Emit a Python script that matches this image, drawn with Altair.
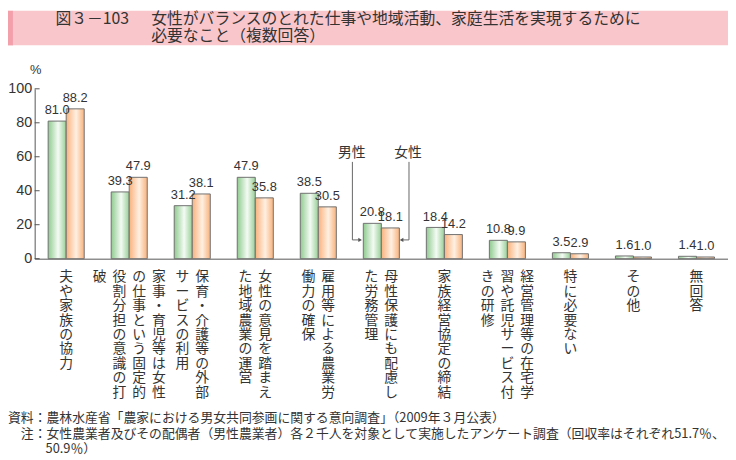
import altair as alt
import pandas as pd

# ---------------- data ----------------
categories = [
    "夫や家族の協力",
    "家事・育児等は女性の仕事という固定的役割分担の意識の打破",
    "保育・介護等の外部サービスの利用",
    "女性の意見を踏まえた地域農業の運営",
    "雇用等による農業労働力の確保",
    "母性保護にも配慮した労務管理",
    "家族経営協定の締結",
    "経営管理等の在宅学習や託児サービス付きの研修",
    "特に必要ない",
    "その他",
    "無回答",
]
# vertical label columns, right column first
label_columns = [
    ["夫や家族の協力"],
    ["家事・育児等は女性", "の仕事という固定的", "役割分担の意識の打", "破"],
    ["保育・介護等の外部", "サービスの利用"],
    ["女性の意見を踏まえ", "た地域農業の運営"],
    ["雇用等による農業労", "働力の確保"],
    ["母性保護にも配慮し", "た労務管理"],
    ["家族経営協定の締結"],
    ["経営管理等の在宅学", "習や託児サービス付", "きの研修"],
    ["特に必要ない"],
    ["その他"],
    ["無回答"],
]
series = ["男性", "女性"]
male = [81.0, 39.3, 31.2, 47.9, 38.5, 20.8, 18.4, 10.8, 3.5, 1.6, 1.4]
female = [88.2, 47.9, 38.1, 35.8, 30.5, 18.1, 14.2, 9.9, 2.9, 1.0, 1.0]
y_ticks = [0, 20, 40, 60, 80, 100]
unit_label = "%"
fig_no = "図３－103"
title_lines = [
    "女性がバランスのとれた仕事や地域活動、家庭生活を実現するために",
    "必要なこと（複数回答）",
]
notes = [
    "資料：農林水産省「農家における男女共同参画に関する意向調査」（2009年３月公表）",
    "注：女性農業者及びその配偶者（男性農業者）各２千人を対象として実施したアンケート調査（回収率はそれぞれ51.7％、",
    "50.9％）",
]

# ---------------- tables ----------------
rows = []
for c, m, f in zip(categories, male, female):
    rows.append({"category": c, "series": series[0], "value": m})
    rows.append({"category": c, "series": series[1], "value": f})
df_bars = pd.DataFrame(rows)

COL_STEP = 20
lab_rows = []
for c, cols in zip(categories, label_columns):
    n = len(cols)
    for j, col in enumerate(cols):
        off = int(round(((n - 1) / 2 - j) * COL_STEP))
        lab_rows.append({"category": c, "off": off, "text": "\n".join(col)})
df_lab = pd.DataFrame(lab_rows)
df_ticks = pd.DataFrame({"value": y_ticks})
one = pd.DataFrame({"k": [0]})

JP = "Noto Sans CJK JP"
NUM = "Liberation Sans"
TXT = "#333333"
AX = "#555555"

x_enc = alt.X(
    "category:N",
    sort=categories,
    scale=alt.Scale(domain=categories, paddingInner=0.428, paddingOuter=0.214),
    axis=alt.Axis(labels=False, ticks=False, title=None, grid=False,
                  domainColor=AX, domainWidth=1),
)
y_enc = alt.Y(
    "value:Q",
    scale=alt.Scale(domain=[0, 100], nice=False, zero=True),
    axis=alt.Axis(values=y_ticks, ticks=False, labelPadding=3, labelFontSize=14.5,
                  labelFont=NUM, labelColor=TXT, title=None,
                  grid=False, domainColor=AX, domainWidth=1),
)
xoff = alt.XOffset("series:N", sort=series,
                   scale=alt.Scale(domain=series, paddingInner=0, paddingOuter=0))

grad_m = alt.Gradient(gradient="linear", x1=0, x2=1, y1=0, y2=0, stops=[
    alt.GradientStop(offset=0, color="#8fca8f"),
    alt.GradientStop(offset=0.55, color="#f4fbf4"),
    alt.GradientStop(offset=1, color="#98cf98"),
])
grad_f = alt.Gradient(gradient="linear", x1=0, x2=1, y1=0, y2=0, stops=[
    alt.GradientStop(offset=0, color="#f8b27c"),
    alt.GradientStop(offset=0.55, color="#fff0e2"),
    alt.GradientStop(offset=1, color="#f8b27c"),
])

layers = []

# title band
layers.append(alt.Chart(one).mark_rect(color="#f9c7cb").encode(
    x=alt.value(-27), x2=alt.value(710), y=alt.value(-79), y2=alt.value(-44)))
layers.append(alt.Chart(one).mark_rect(color="#f3a0ab").encode(
    x=alt.value(-27), x2=alt.value(-22), y=alt.value(-79), y2=alt.value(-44)))
layers.append(alt.Chart(one).mark_text(text=fig_no, font=JP, fontSize=16, color=TXT,
                                       align="left", baseline="middle").encode(
    x=alt.value(21), y=alt.value(-70.5)))
for i, t in enumerate(title_lines):
    layers.append(alt.Chart(one).mark_text(text=t, font=JP, fontSize=16, color=TXT,
                                           align="left", baseline="middle").encode(
        x=alt.value(118), y=alt.value(-70.5 + 17.5 * i)))

# bars
for s, g in zip(series, [grad_m, grad_f]):
    layers.append(
        alt.Chart(df_bars).transform_filter(alt.datum.series == s)
        .mark_bar(fill=g, stroke="#707070", strokeWidth=1)
        .encode(x=x_enc, xOffset=xoff, y=y_enc)
    )

# inward ticks on y axis
layers.append(alt.Chart(df_ticks).mark_rule(color=AX, strokeWidth=1).encode(
    y=y_enc, x=alt.value(0), x2=alt.value(5)))

# value labels
layers.append(
    alt.Chart(df_bars).mark_text(font=NUM, fontSize=13, color=TXT,
                                 baseline="alphabetic", dy=-7)
    .encode(x=x_enc, xOffset=xoff, y=y_enc, text=alt.Text("value:Q", format=".1f"))
)

# vertical category labels
for off in sorted(df_lab["off"].unique()):
    layers.append(
        alt.Chart(df_lab).transform_filter(alt.datum.off == int(off))
        .mark_text(dx=int(off), font=JP, fontSize=14, color=TXT, lineBreak="\n",
                   lineHeight=14.6, align="center", baseline="top")
        .encode(x=x_enc, y=alt.value(184), text="text:N")
    )

# unit label
layers.append(alt.Chart(one).mark_text(text=unit_label, font=NUM, fontSize=13,
                                       color=TXT, align="center", baseline="middle").encode(
    x=alt.value(1), y=alt.value(-19)))

# series annotation with arrows
layers.append(alt.Chart(one).mark_text(text=series[0], font=JP, fontSize=14, color=TXT,
                                       align="center", baseline="middle").encode(
    x=alt.value(321), y=alt.value(65)))
layers.append(alt.Chart(one).mark_text(text=series[1], font=JP, fontSize=14, color=TXT,
                                       align="center", baseline="middle").encode(
    x=alt.value(378), y=alt.value(65)))
for (xa, ya, yb) in [(321.7, 74, 153), (379, 74, 153)]:
    layers.append(alt.Chart(one).mark_rule(color="#666666", strokeWidth=1).encode(
        x=alt.value(xa), y=alt.value(ya), y2=alt.value(yb)))
layers.append(alt.Chart(one).mark_rule(color="#666666", strokeWidth=1).encode(
    x=alt.value(321.7), x2=alt.value(329), y=alt.value(153)))
layers.append(alt.Chart(one).mark_rule(color="#666666", strokeWidth=1).encode(
    x=alt.value(372), x2=alt.value(379), y=alt.value(153)))
layers.append(alt.Chart(one).mark_point(shape="triangle-right", filled=True, size=18,
                                        color="#555555", opacity=1).encode(
    x=alt.value(329.5), y=alt.value(153)))
layers.append(alt.Chart(one).mark_point(shape="triangle-left", filled=True, size=18,
                                        color="#555555", opacity=1).encode(
    x=alt.value(371.5), y=alt.value(153)))

# notes
for t, xv, yv in zip(notes, [-27, -14, 11], [333, 350, 365]):
    layers.append(alt.Chart(one).mark_text(text=t, font=JP, fontSize=13, color=TXT,
                                           align="left", baseline="middle").encode(
        x=alt.value(xv), y=alt.value(yv)))

chart = alt.layer(*layers).properties(
    width=702,
    height=172,
    padding={"left": 27, "top": 79, "right": 0, "bottom": 200},
    autosize=alt.AutoSizeParams(type="none"),
).configure_view(stroke=None)

chart.save("out.html", embed_options={"renderer": "svg", "actions": False})
